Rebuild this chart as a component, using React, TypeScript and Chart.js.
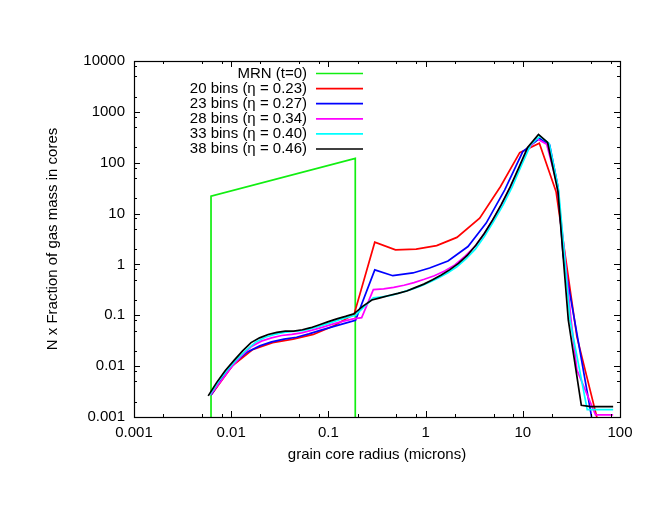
import { useEffect, useRef } from 'react';
import { Chart, registerables } from 'chart.js';

Chart.register(...registerables);

const FONT = '"Liberation Sans", Arial, Helvetica, sans-serif';

// ---- axes ----
const xMajorTicks = [0.001, 0.01, 0.1, 1, 10, 100];
const xTickLabels = ['0.001', '0.01', '0.1', '1', '10', '100'];
const xMinorTicks = [0.002, 0.005, 0.008, 0.02, 0.05, 0.08, 0.2, 0.5, 0.8, 2, 5, 8, 20, 50, 80];
const yMajorTicks = [0.001, 0.01, 0.1, 1, 10, 100, 1000, 10000];
const yTickLabels = ['0.001', '0.01', '0.1', '1', '10', '100', '1000', '10000'];
const yMinorTicks = [
  0.002, 0.005, 0.008, 0.02, 0.05, 0.08, 0.2, 0.5, 0.8, 2, 5, 8, 20, 50, 80, 200, 500, 800, 2000, 5000, 8000,
];
const xTitle = 'grain core radius (microns)';
const yTitle = 'N x Fraction of gas mass in cores';

// ---- series ----
const seriesLabels = [
  'MRN (t=0)',
  '20 bins (\u03b7 = 0.23)',
  '23 bins (\u03b7 = 0.27)',
  '28 bins (\u03b7 = 0.34)',
  '33 bins (\u03b7 = 0.40)',
  '38 bins (\u03b7 = 0.46)',
];
const seriesColors = ['#11ee11', '#ff0000', '#0000ff', '#ff00ff', '#00ffff', '#000000'];

const mrnX = [0.0062, 0.0062, 0.189, 0.189];
const mrnY = [0.0001, 22, 122, 0.0001];

const bins20X = [0.0063, 0.0102, 0.0165, 0.0267, 0.0433, 0.07, 0.114, 0.184, 0.3, 0.49, 0.8, 1.3, 2.1, 3.6, 5.9, 9.3, 14.8, 22, 36, 60];
const bins20Y = [0.0028, 0.01, 0.021, 0.029, 0.034, 0.042, 0.062, 0.105, 2.74, 1.94, 2.0, 2.35, 3.4, 8.1, 34, 158, 242, 27, 0.038, 0.00074];

const bins23X = [0.0062, 0.0083, 0.011, 0.0147, 0.0197, 0.026, 0.035, 0.047, 0.063, 0.084, 0.112, 0.15, 0.19, 0.3, 0.46, 0.74, 1.1, 1.7, 2.73, 4.2, 6.5, 10, 14.9, 18.9, 23, 26, 51, 65];
const bins23Y = [0.0027, 0.0062, 0.012, 0.019, 0.025, 0.03, 0.034, 0.037, 0.043, 0.051, 0.06, 0.07, 0.08, 0.78, 0.6, 0.68, 0.85, 1.17, 2.25, 6.5, 29, 165, 300, 224, 34, 1.5, 0.001, 0.0002];

const bins28X = [0.0061, 0.0078, 0.0099, 0.0126, 0.016, 0.0204, 0.026, 0.033, 0.042, 0.053, 0.068, 0.086, 0.11, 0.14, 0.18, 0.22, 0.29, 0.37, 0.47, 0.6, 0.76, 0.97, 1.23, 1.57, 2.0, 2.55, 3.25, 4.1, 5.3, 6.7, 8.5, 10.8, 13.8, 17.6, 22.4, 26.5, 31, 36, 56, 70, 85];
const bins28Y = [0.0027, 0.005, 0.0092, 0.0155, 0.024, 0.031, 0.036, 0.04, 0.042, 0.045, 0.051, 0.058, 0.067, 0.076, 0.085, 0.09, 0.32, 0.33, 0.355, 0.39, 0.44, 0.51, 0.6, 0.74, 0.98, 1.45, 2.3, 4.3, 9.5, 22, 55, 160, 300, 230, 40, 2.2, 0.1, 0.0085, 0.0011, 0.0011, 0.0011];

const bins33X = [0.006, 0.0075, 0.0093, 0.0116, 0.0144, 0.018, 0.0224, 0.028, 0.035, 0.043, 0.054, 0.067, 0.083, 0.104, 0.13, 0.16, 0.19, 0.235, 0.29, 0.36, 0.45, 0.56, 0.7, 0.87, 1.08, 1.35, 1.68, 2.1, 2.6, 3.25, 4.05, 5.0, 6.3, 7.8, 9.7, 12.1, 15, 18.7, 23.3, 26.5, 30.6, 46, 56, 70, 85];
const bins33Y = [0.0027, 0.0052, 0.0088, 0.014, 0.021, 0.03, 0.037, 0.042, 0.046, 0.048, 0.05, 0.055, 0.062, 0.071, 0.082, 0.092, 0.1, 0.15, 0.22, 0.23, 0.25, 0.28, 0.32, 0.37, 0.44, 0.54, 0.68, 0.9, 1.28, 2.0, 3.6, 7.0, 15, 34, 90, 230, 330, 240, 30, 2.0, 0.08, 0.0014, 0.0014, 0.0014, 0.0014];

const bins38X = [0.0058, 0.0071, 0.0087, 0.0107, 0.0131, 0.016, 0.0196, 0.024, 0.0295, 0.036, 0.044, 0.054, 0.066, 0.081, 0.1, 0.122, 0.15, 0.183, 0.225, 0.28, 0.34, 0.42, 0.52, 0.64, 0.78, 0.96, 1.18, 1.45, 1.78, 2.18, 2.68, 3.3, 4.0, 4.9, 6.0, 7.4, 9.1, 11.2, 14.5, 18, 23, 25.7, 29.4, 40, 50, 63, 85];
const bins38Y = [0.0026, 0.0048, 0.0082, 0.013, 0.02, 0.029, 0.036, 0.042, 0.046, 0.049, 0.049, 0.052, 0.057, 0.065, 0.075, 0.085, 0.095, 0.107, 0.15, 0.2, 0.22, 0.245, 0.27, 0.3, 0.35, 0.41, 0.5, 0.62, 0.79, 1.05, 1.5, 2.4, 4.0, 7.5, 15, 33, 80, 200, 360, 250, 27, 1.9, 0.08, 0.0017, 0.0016, 0.0016, 0.0016];

const seriesX = [mrnX, bins20X, bins23X, bins28X, bins33X, bins38X];
const seriesY = [mrnY, bins20Y, bins23Y, bins28Y, bins33Y, bins38Y];

const toPoints = (xs: number[], ys: number[]) => xs.map((x, i) => ({ x, y: ys[i] }));
const sorted = (a: number[], b: number[]) => [...a, ...b].sort((p, q) => p - q);

const framePlugin = {
  id: 'frameTicksLegend',
  afterDraw(chart: any) {
    const { ctx, chartArea } = chart;
    const { left, right, top, bottom } = chartArea;
    const xs = chart.scales.x;
    const ys = chart.scales.y;
    ctx.save();
    ctx.strokeStyle = '#000';
    ctx.lineWidth = 1;
    ctx.beginPath();
    xs.ticks.forEach((t: any) => {
      const len = xMajorTicks.includes(t.value) ? 6 : 3;
      const px = Math.round(xs.getPixelForValue(t.value)) + 0.5;
      ctx.moveTo(px, bottom);
      ctx.lineTo(px, bottom - len);
      ctx.moveTo(px, top);
      ctx.lineTo(px, top + len);
    });
    ys.ticks.forEach((t: any) => {
      const len = yMajorTicks.includes(t.value) ? 6 : 3;
      const py = Math.round(ys.getPixelForValue(t.value)) + 0.5;
      ctx.moveTo(left, py);
      ctx.lineTo(left + len, py);
      ctx.moveTo(right, py);
      ctx.lineTo(right - len, py);
    });
    ctx.stroke();
    ctx.lineWidth = 1.2;
    ctx.strokeRect(left + 0.5, top + 0.5, right - left, bottom - top);

    // legend (gnuplot style: text right-aligned, then line sample)
    const textRight = left + 173;
    const lineStart = left + 182;
    const lineEnd = left + 229;
    const y0 = top + 12.5;
    const dy = 15.1;
    ctx.font = `15px ${FONT}`;
    ctx.textAlign = 'right';
    ctx.textBaseline = 'middle';
    chart.data.datasets.forEach((ds: any, i: number) => {
      const yy = y0 + i * dy;
      ctx.fillStyle = '#000';
      ctx.fillText(ds.label, textRight, yy);
      ctx.strokeStyle = ds.borderColor;
      ctx.lineWidth = 1.7;
      ctx.beginPath();
      ctx.moveTo(lineStart, yy);
      ctx.lineTo(lineEnd, yy);
      ctx.stroke();
    });
    ctx.restore();
  },
};

export default function App() {
  const ref = useRef<HTMLCanvasElement>(null);
  useEffect(() => {
    document.body.style.margin = '0';
    const canvas = ref.current!;
    const n = seriesLabels.length;
    const chart = new Chart(canvas, {
      type: 'scatter',
      data: {
        datasets: seriesLabels.map((label, i) => ({
          label,
          data: toPoints(seriesX[i], seriesY[i]),
          borderColor: seriesColors[i],
          backgroundColor: seriesColors[i],
          borderWidth: 1.7,
          showLine: true,
          pointRadius: 0,
          pointHoverRadius: 0,
          tension: 0,
          fill: false,
          order: n - 1 - i,
        })),
      },
      options: {
        responsive: false,
        animation: false,
        devicePixelRatio: 1,
        layout: { padding: { left: 0, right: 46, top: 61, bottom: 0 } },
        plugins: { legend: { display: false }, tooltip: { enabled: false } },
        font: { family: FONT, size: 15 },
        scales: {
          x: {
            type: 'logarithmic',
            position: 'bottom',
            min: 0.001,
            max: 100,
            grid: { display: false, drawTicks: false },
            border: { display: false },
            afterBuildTicks: (axis: any) => {
              axis.ticks = sorted(xMajorTicks, xMinorTicks).map((value) => ({ value }));
            },
            afterFit: (scale: any) => {
              scale.height = 98;
            },
            ticks: {
              autoSkip: false,
              maxRotation: 0,
              minRotation: 0,
              padding: 7,
              color: '#000',
              font: { family: FONT, size: 15 },
              callback: (value: any) => {
                const k = xMajorTicks.indexOf(Number(value));
                return k >= 0 ? xTickLabels[k] : '';
              },
            },
            title: {
              display: true,
              text: xTitle,
              color: '#000',
              font: { family: FONT, size: 15 },
              padding: { top: 0, bottom: 51 },
            },
          },
          y: {
            type: 'logarithmic',
            position: 'left',
            min: 0.001,
            max: 10000,
            grid: { display: false, drawTicks: false },
            border: { display: false },
            afterBuildTicks: (axis: any) => {
              axis.ticks = sorted(yMajorTicks, yMinorTicks).map((value) => ({ value }));
            },
            afterFit: (scale: any) => {
              scale.width = 134;
            },
            ticks: {
              autoSkip: false,
              padding: 9,
              color: '#000',
              font: { family: FONT, size: 15 },
              callback: (value: any) => {
                const k = yMajorTicks.indexOf(Number(value));
                return k >= 0 ? yTickLabels[k] : '';
              },
            },
            title: {
              display: true,
              text: yTitle,
              color: '#000',
              font: { family: FONT, size: 15 },
              padding: { top: 44, bottom: 0 },
            },
          },
        },
      } as any,
      plugins: [framePlugin],
    });
    return () => chart.destroy();
  }, []);
  return (
    <canvas
      ref={ref}
      width={666}
      height={515}
      style={{ display: 'block', width: '666px', height: '515px' }}
    />
  );
}
